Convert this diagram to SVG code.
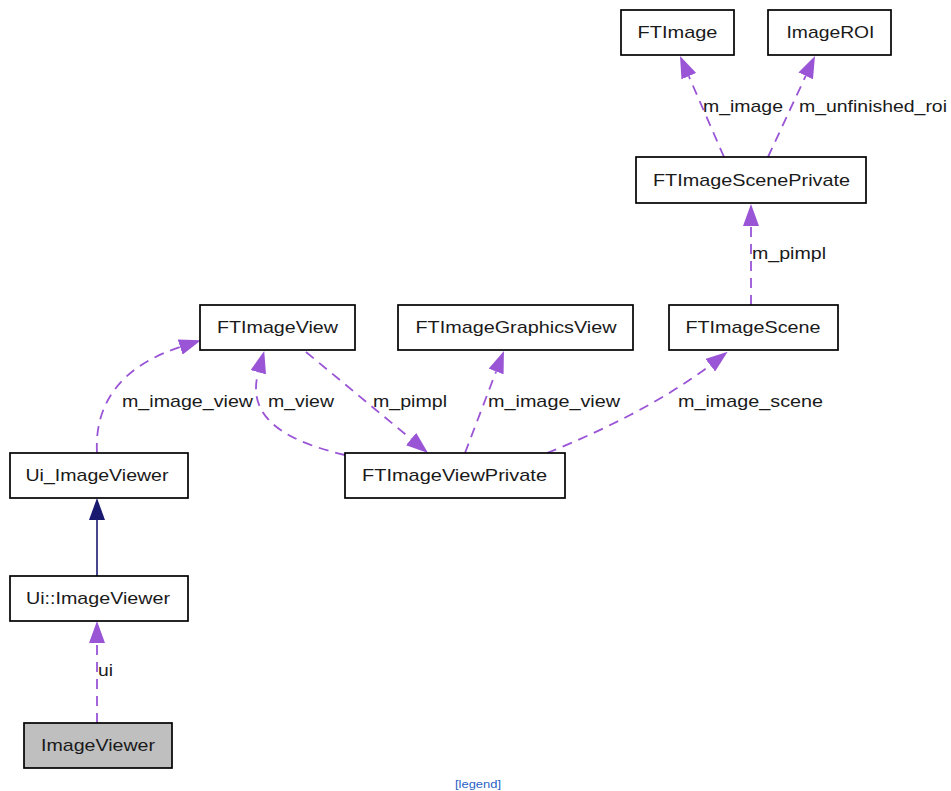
<svg xmlns="http://www.w3.org/2000/svg" width="951" height="791" viewBox="0 0 951 791">
  <style>
    .node rect { fill: #ffffff; stroke: #000000; stroke-width: 1.7; }
    .node.self rect { fill: #bfbfbf; }
    text { font-family: "Liberation Sans", Arial, Helvetica, sans-serif; font-size: 17px; fill: #1a1a1a; }
    .name { text-anchor: middle; }
    .use { fill: none; stroke: #9a55d6; stroke-width: 1.8; stroke-dasharray: 10 7; }
    .inherit { fill: none; stroke: #191970; stroke-width: 1.6; }
    .legend { font-size: 11px; fill: #2a62c4; text-anchor: middle; }
  </style>
  <defs>
    <marker id="useHead" markerUnits="userSpaceOnUse" viewBox="0 0 22 16" refX="0" refY="8" markerWidth="22" markerHeight="16" orient="auto">
      <path d="M0,0 L22,8 L0,16 z" fill="#9a55d6"/>
    </marker>
    <marker id="inheritHead" markerUnits="userSpaceOnUse" viewBox="0 0 22 16" refX="0" refY="8" markerWidth="22" markerHeight="16" orient="auto">
      <path d="M0,0 L22,8 L0,16 z" fill="#191970"/>
    </marker>
  </defs>

  <rect width="951" height="791" fill="#ffffff"/>

  <!-- connectors -->
  <g id="edges">
    <path class="use" d="M724,157 L688.8,76.2" marker-end="url(#useHead)"/>
    <path class="use" d="M768,157 L805.7,75.9" marker-end="url(#useHead)"/>
    <path class="use" d="M751,305 L751,226" marker-end="url(#useHead)"/>
    <path class="use" d="M97,453 C94,400 125,365 180.1,347" marker-end="url(#useHead)"/>
    <path class="use" d="M345,455 C290,442 245,420 258.3,372.2" marker-end="url(#useHead)"/>
    <path class="use" d="M306,352 L411.1,439" marker-end="url(#useHead)"/>
    <path class="use" d="M465,453 L496.1,371.5" marker-end="url(#useHead)"/>
    <path class="use" d="M547,453 C600,432 665,400 710.2,365.2" marker-end="url(#useHead)"/>
    <path class="inherit" d="M97,576 L97,520" marker-end="url(#inheritHead)"/>
    <path class="use" d="M97,723 L97,643" marker-end="url(#useHead)"/>

    <text x="703" y="112" textLength="80" lengthAdjust="spacingAndGlyphs">m_image</text>
    <text x="799" y="112" textLength="148" lengthAdjust="spacingAndGlyphs">m_unfinished_roi</text>
    <text x="752" y="259" textLength="74" lengthAdjust="spacingAndGlyphs">m_pimpl</text>
    <text x="122" y="407" textLength="131" lengthAdjust="spacingAndGlyphs">m_image_view</text>
    <text x="268" y="407" textLength="66" lengthAdjust="spacingAndGlyphs">m_view</text>
    <text x="373" y="407" textLength="74" lengthAdjust="spacingAndGlyphs">m_pimpl</text>
    <text x="488" y="407" textLength="132" lengthAdjust="spacingAndGlyphs">m_image_view</text>
    <text x="678" y="407" textLength="145" lengthAdjust="spacingAndGlyphs">m_image_scene</text>
    <text x="98" y="676" textLength="15" lengthAdjust="spacingAndGlyphs">ui</text>
  </g>

  <!-- nodes -->
  <g id="FTImage" class="node">
    <rect x="621" y="10" width="113" height="45"/>
    <text class="name" x="677.5" y="38" textLength="80" lengthAdjust="spacingAndGlyphs">FTImage</text>
  </g>
  <g id="ImageROI" class="node">
    <rect x="768" y="10" width="123" height="45"/>
    <text class="name" x="830.5" y="38" textLength="88" lengthAdjust="spacingAndGlyphs">ImageROI</text>
  </g>
  <g id="FTImageScenePrivate" class="node">
    <rect x="636" y="157" width="230" height="46"/>
    <text class="name" x="751.5" y="186" textLength="197" lengthAdjust="spacingAndGlyphs">FTImageScenePrivate</text>
  </g>
  <g id="FTImageView" class="node">
    <rect x="200" y="305" width="155" height="45"/>
    <text class="name" x="277.5" y="333" textLength="121" lengthAdjust="spacingAndGlyphs">FTImageView</text>
  </g>
  <g id="FTImageGraphicsView" class="node">
    <rect x="398" y="305" width="235" height="45"/>
    <text class="name" x="516" y="333" textLength="201" lengthAdjust="spacingAndGlyphs">FTImageGraphicsView</text>
  </g>
  <g id="FTImageScene" class="node">
    <rect x="669" y="305" width="169" height="45"/>
    <text class="name" x="753" y="333" textLength="135" lengthAdjust="spacingAndGlyphs">FTImageScene</text>
  </g>
  <g id="Ui_ImageViewer" class="node">
    <rect x="10" y="453" width="178" height="45"/>
    <text class="name" x="97" y="481" textLength="143" lengthAdjust="spacingAndGlyphs">Ui_ImageViewer</text>
  </g>
  <g id="FTImageViewPrivate" class="node">
    <rect x="345" y="453" width="220" height="45"/>
    <text class="name" x="454.5" y="481" textLength="185" lengthAdjust="spacingAndGlyphs">FTImageViewPrivate</text>
  </g>
  <g id="Ui_ImageViewer_ns" class="node">
    <rect x="10" y="576" width="178" height="45"/>
    <text class="name" x="98" y="604" textLength="144" lengthAdjust="spacingAndGlyphs">Ui::ImageViewer</text>
  </g>
  <g id="ImageViewer" class="node self">
    <rect x="24" y="723" width="148" height="45"/>
    <text class="name" x="98" y="751" textLength="114" lengthAdjust="spacingAndGlyphs">ImageViewer</text>
  </g>

  <text class="legend" x="478" y="788" textLength="46" lengthAdjust="spacingAndGlyphs">[legend]</text>
</svg>
